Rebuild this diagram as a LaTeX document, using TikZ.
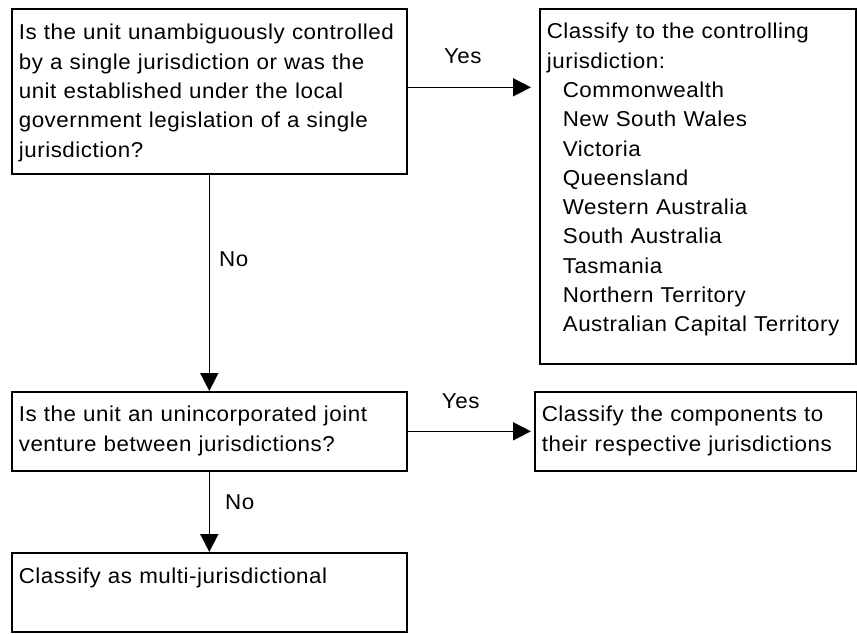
\documentclass[tikz,border=0pt]{standalone}
\usepackage{fontspec}
\newfontfamily\chartfont{Liberation Sans}[LetterSpace=2.5,FakeStretch=1.04]
\usetikzlibrary{arrows.meta}

\newcommand{\chartsize}{\chartfont\fontsize{21.5}{29.3}\selectfont}
\newcommand{\listindent}{\hspace*{16pt}}

\tikzset{
    qbox/.style={draw, line width=1.6pt, anchor=north west, align=left,
        inner xsep=7pt, inner ysep=0pt, font=\chartsize},
    link/.style={-{Triangle[length=18pt,width=18pt]}, line width=1.6pt},
    answer/.style={font=\chartsize, inner sep=0pt}
}

\begin{document}
\begin{tikzpicture}[x=1pt, y=-1pt]
        \useasboundingbox
            (0,0) rectangle (857,633);
        \node[qbox, text width=381pt, text height=31pt, text depth=134pt]
            (single) at (11,8)
            {Is the unit unambiguously controlled\\
             by a single jurisdiction or was the\\
             unit established under the local\\
             government legislation of a single\\
             jurisdiction?};
        \node[qbox, text width=302pt, text height=30pt, text depth=325pt]
            (controlling) at (539,8)
            {Classify to the controlling\\
             jurisdiction:\\
             \listindent Commonwealth\\
             \listindent New South Wales\\
             \listindent Victoria\\
             \listindent Queensland\\
             \listindent Western Australia\\
             \listindent South Australia\\
             \listindent Tasmania\\
             \listindent Northern Territory\\
             \listindent Australian Capital Territory};
        \node[qbox, text width=381pt, text height=30pt, text depth=49pt]
            (joint) at (11,391)
            {Is the unit an unincorporated joint\\
             venture between jurisdictions?};
        \node[qbox, text width=308pt, text height=30pt, text depth=49pt]
            (components) at (534,391)
            {Classify the components to\\
             their respective jurisdictions};
        \node[qbox, text width=381pt, text height=31pt, text depth=48pt]
            (multi) at (11,552)
            {Classify as multi-jurisdictional};
        \draw
            [link, shorten >=8pt] ([yshift=4pt]single.east) -- ([yshift=4pt]single.east -| controlling.west)
            node[answer, pos=0.42, above=23pt] (yes1) {Yes};
        \draw
            [link] (single.south) -- (joint.north)
            node[answer, pos=0.39, right=9pt] (no1) {No};
        \draw
            [link, shorten >=3pt] (joint.east) -- (joint.east -| components.west)
            node[answer, pos=0.42, above=22pt] (yes2) {Yes};
        \draw
            [link] (joint.south) -- (multi.north)
            node[answer, pos=0.38, right=15pt] (no2) {No};
    \end{tikzpicture}
\end{document}
